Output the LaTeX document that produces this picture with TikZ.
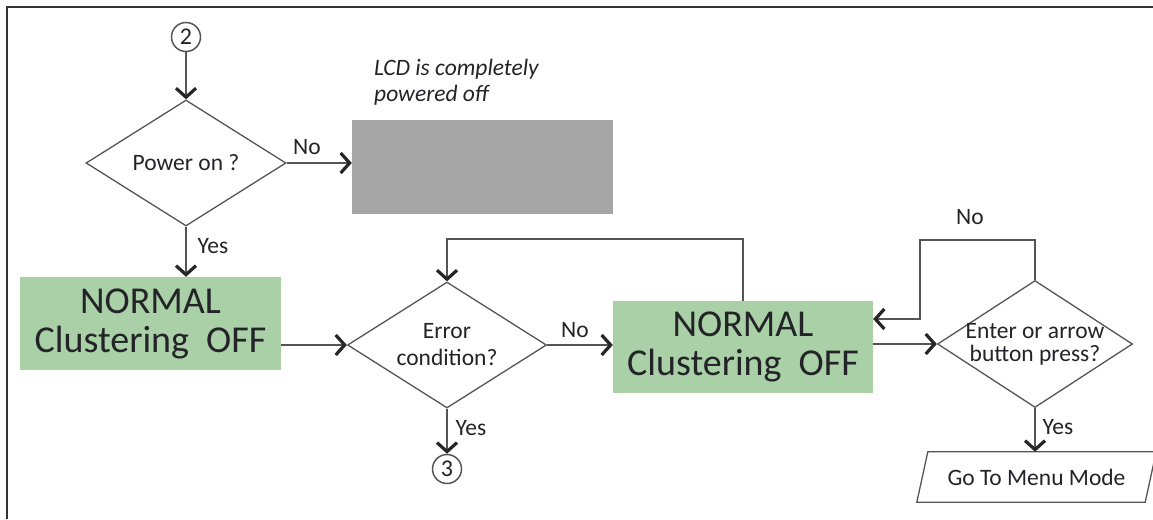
\documentclass[tikz,border=0pt]{standalone}
\usepackage{fontspec}
\setmainfont{Carlito}
\usetikzlibrary{shapes.geometric,arrows.meta}
\definecolor{gboxc}{RGB}{169,208,166}
\definecolor{grayboxc}{RGB}{165,165,165}
\definecolor{lnc}{RGB}{85,85,85}
\definecolor{txc}{RGB}{35,35,40}
\definecolor{framec}{RGB}{51,51,51}
\begin{document}
\begin{tikzpicture}[x=1pt,y=-1pt,
  line/.style={draw=lnc,line width=1.4pt},
  conn/.style={draw=lnc,line width=1.5pt,-{Straight Barb[length=9pt,width=20pt,line width=3.2pt,color=black!85]}},
  dia/.style={diamond,draw=lnc,line width=1.3pt,fill=white,inner sep=0pt},
  small/.style={font=\fontsize{23.5}{25}\selectfont,text=txc,inner sep=0pt},
  big/.style={font=\fontsize{38}{39}\selectfont,text=txc},
  gbox/.style={rectangle,fill=gboxc,minimum width=261pt,minimum height=93pt,align=center,inner sep=0pt},
  conncirc/.style={circle,draw=lnc,line width=1.5pt,minimum size=29pt,inner sep=0pt,fill=white,font=\fontsize{24}{24}\selectfont,text=txc}
]
\useasboundingbox (0,0) rectangle (1153,519);
\draw[line width=2.4pt,draw=framec] (7,519) -- (7,7) -- (1153,7);

% nodes
\node[conncirc] (c2) at (186,37) {2};
\node[dia,minimum width=200pt,minimum height=126pt] (d1) at (186,163) {};
\node[small] at (d1) {Power on ?};
\node[rectangle,fill=grayboxc,minimum width=261pt,minimum height=94pt,inner sep=0pt] (off) at (482.5,167) {};
\node[small,anchor=north west,align=left,font=\fontsize{23.5}{26}\selectfont\itshape] (lcd) at (374,59) {LCD is completely\\powered off};

\node[gbox,big] (g1) at (150.5,323.5) {NORMAL\\Clustering~~OFF};
\node[dia,minimum width=199pt,minimum height=126pt] (d2) at (447,345) {};
\node[small,align=center,font=\fontsize{23.5}{27}\selectfont] at (d2) {Error\\condition?};
\node[conncirc] (c3) at (447,469) {3};

\node[gbox,big,minimum width=260pt,minimum height=92pt] (g2) at (743,347) {NORMAL\\Clustering~~OFF};
\node[dia,minimum width=195pt,minimum height=127pt] (d3) at (1035,344) {};
\node[small,align=center,font=\fontsize{23.5}{23}\selectfont] at (d3) {Enter or arrow\\button press?};

\node[small,minimum width=228pt,minimum height=50pt] (go) at (1036.5,477) {Go To Menu Mode};
\draw[line,line width=1.3pt] ([xshift=5.5pt]go.north west) -- ([xshift=5.5pt]go.north east)
  -- ([xshift=-5.5pt]go.south east) -- ([xshift=-5.5pt]go.south west) -- cycle;

\coordinate (t1) at (743,239);
\coordinate (t2) at (447,239);
\coordinate (r1) at (1035,240);
\coordinate (r2) at (920,240);
\coordinate (r3) at (920,319);

% connectors
\draw[conn] (c2) -- (d1.north);
\draw[conn] (d1.east) -- (d1.east -| off.west);
\draw[conn] (d1.south) -- (g1.north -| d1.south);
\draw[conn] (g1.east |- d2.west) -- (d2.west);
\draw[conn] (d2.east) -- (d2.east -| g2.west);
\draw[conn] (d2.south) -- (c3.north);
\draw[conn] (g2.north) -- (t1) -- (t2) -- (d2.north);
\draw[conn] (g2.east |- d3.west) -- (d3.west);
\draw[conn] (d3.north) -- (r1) -- (r2) -- (r3) -- (r3 -| g2.east);
\draw[conn] (d3.south) -- (go.north -| d3.south);

% labels
\node[small] at (307,147) {No};
\node[small] at (213,246) {Yes};
\node[small] at (575,330) {No};
\node[small] at (471,428) {Yes};
\node[small] at (970,217) {No};
\node[small] at (1058,427) {Yes};
\end{tikzpicture}
\end{document}
